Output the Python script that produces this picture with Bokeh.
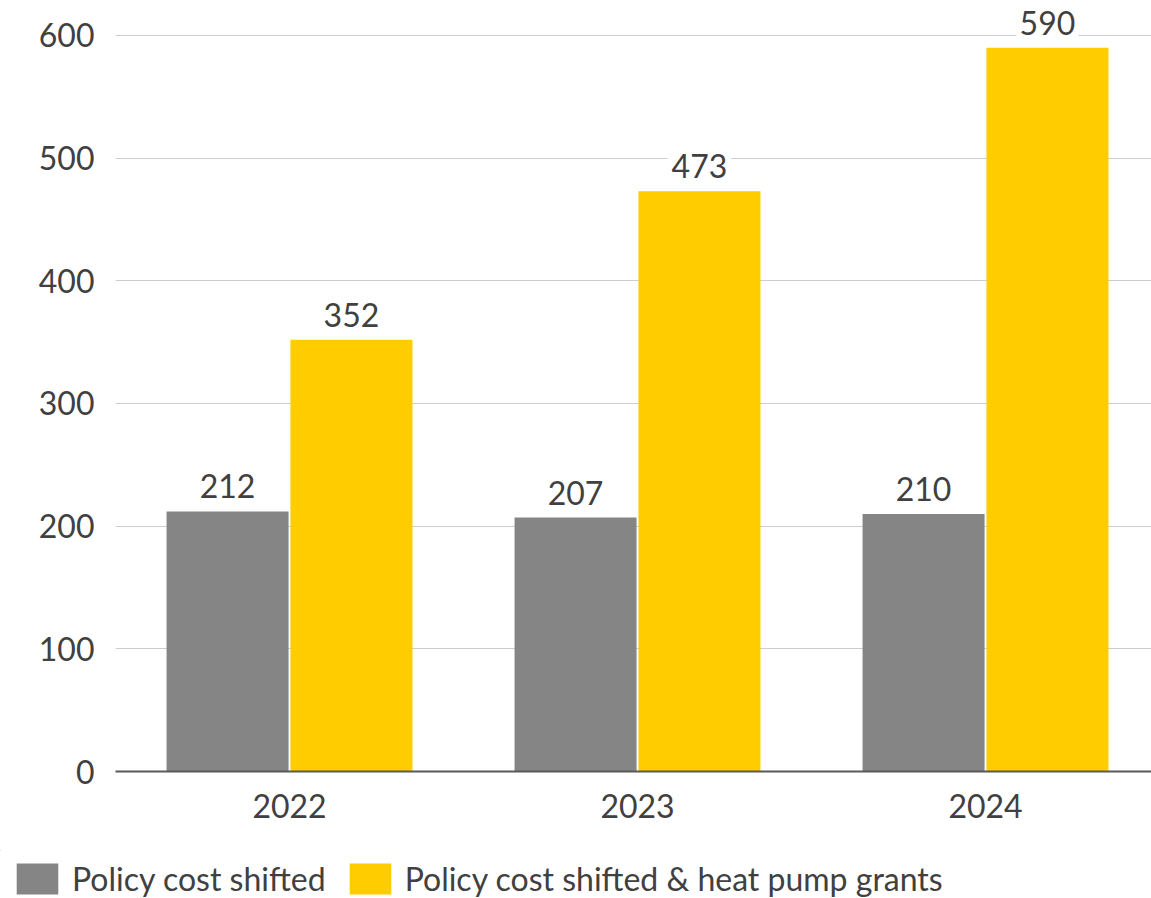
from bokeh.plotting import figure
from bokeh.layouts import column
from bokeh.models import Range1d, FixedTicker, ColumnDataSource, LabelSet, Legend, LegendItem
from bokeh.core.properties import value
from bokeh.embed import file_html
from bokeh.resources import INLINE

years = ["2022", "2023", "2024"]
policy_cost_shifted = [212, 207, 210]
policy_cost_heat_pump = [352, 473, 590]
series_names = ["Policy cost shifted", "Policy cost shifted & heat pump grants"]
y_ticks = [0, 100, 200, 300, 400, 500, 600]

FONT = "Lato"
TXT = "#404040"
GRAY = "#858585"
YELLOW = "#FFCC00"

xs = [i + 0.5 for i in range(len(years))]
off = 0.178
bw = 0.3506

src1 = ColumnDataSource(dict(x=[v - off for v in xs], top=policy_cost_shifted,
                             lbl=[str(v) for v in policy_cost_shifted]))
src2 = ColumnDataSource(dict(x=[v + off for v in xs], top=policy_cost_heat_pump,
                             lbl=[str(v) for v in policy_cost_heat_pump]))

p = figure(width=1151, height=850, output_backend="svg", toolbar_location=None,
           x_range=Range1d(0, 2.977), y_range=Range1d(0, 628.5))
p.min_border_left = 115
p.min_border_right = 0
p.min_border_top = 0
p.min_border_bottom = 79
p.outline_line_color = None
p.background_fill_color = "white"
p.border_fill_color = "white"
p.frame_align = False

p.vbar(x="x", top="top", width=bw, source=src1, fill_color=GRAY, line_color=None)
p.vbar(x="x", top="top", width=bw, source=src2, fill_color=YELLOW, line_color=None)

for src in (src1, src2):
    p.add_layout(LabelSet(x="x", y="top", text="lbl", source=src, text_align="center",
                          text_baseline="bottom", y_offset=13, text_font=value(FONT),
                          text_font_size="32px", text_color=TXT,
                          background_fill_color="white",
                          border_line_color="white", border_line_width=8))

# axes
p.xaxis.ticker = FixedTicker(ticks=xs)
p.xaxis.major_label_overrides = {x: y for x, y in zip(xs, years)}
p.xaxis.axis_line_color = "#595959"
p.xaxis.axis_line_width = 2
p.xaxis.major_tick_line_color = None
p.xaxis.minor_tick_line_color = None
p.xaxis.major_label_standoff = 16
p.xaxis.major_label_text_font = FONT
p.xaxis.major_label_text_font_size = "32px"
p.xaxis.major_label_text_color = TXT

p.yaxis.ticker = FixedTicker(ticks=y_ticks)
p.yaxis.axis_line_color = None
p.yaxis.major_tick_line_color = None
p.yaxis.minor_tick_line_color = None
p.yaxis.major_label_standoff = 15
p.yaxis.major_label_text_font = FONT
p.yaxis.major_label_text_font_size = "32px"
p.yaxis.major_label_text_color = TXT

p.xgrid.grid_line_color = None
p.ygrid.ticker = FixedTicker(ticks=y_ticks[1:])
p.ygrid.grid_line_color = "#cccccc"
p.ygrid.grid_line_width = 1

# legend strip below the chart (bars share the data but lie far outside this strip's view)
lg = figure(width=1151, height=48, output_backend="svg", toolbar_location=None,
            x_range=Range1d(100, 101), y_range=Range1d(-101, -100),
            x_axis_location=None, y_axis_location=None,
            min_border_left=0, min_border_right=0, min_border_top=0, min_border_bottom=0)
lg.frame_align = False
lg.grid.visible = False
lg.outline_line_color = None
e1 = lg.vbar(x="x", top="top", width=bw, source=src1, fill_color=GRAY, line_color=None)
e2 = lg.vbar(x="x", top="top", width=bw, source=src2, fill_color=YELLOW, line_color=None)
legend = Legend(items=[LegendItem(label=series_names[0], renderers=[e1]),
                       LegendItem(label=series_names[1], renderers=[e2])],
                orientation="horizontal", location=(11, 0),
                glyph_width=52, glyph_height=39, label_standoff=9, spacing=18,
                padding=0, margin=0, border_line_color=None, background_fill_alpha=0,
                label_text_font=FONT, label_text_font_size="32px", label_text_color=TXT,
                label_height=39)
lg.add_layout(legend, "center")

layout = column(p, lg, spacing=0)
open("out.html", "w").write(file_html(layout, INLINE))
